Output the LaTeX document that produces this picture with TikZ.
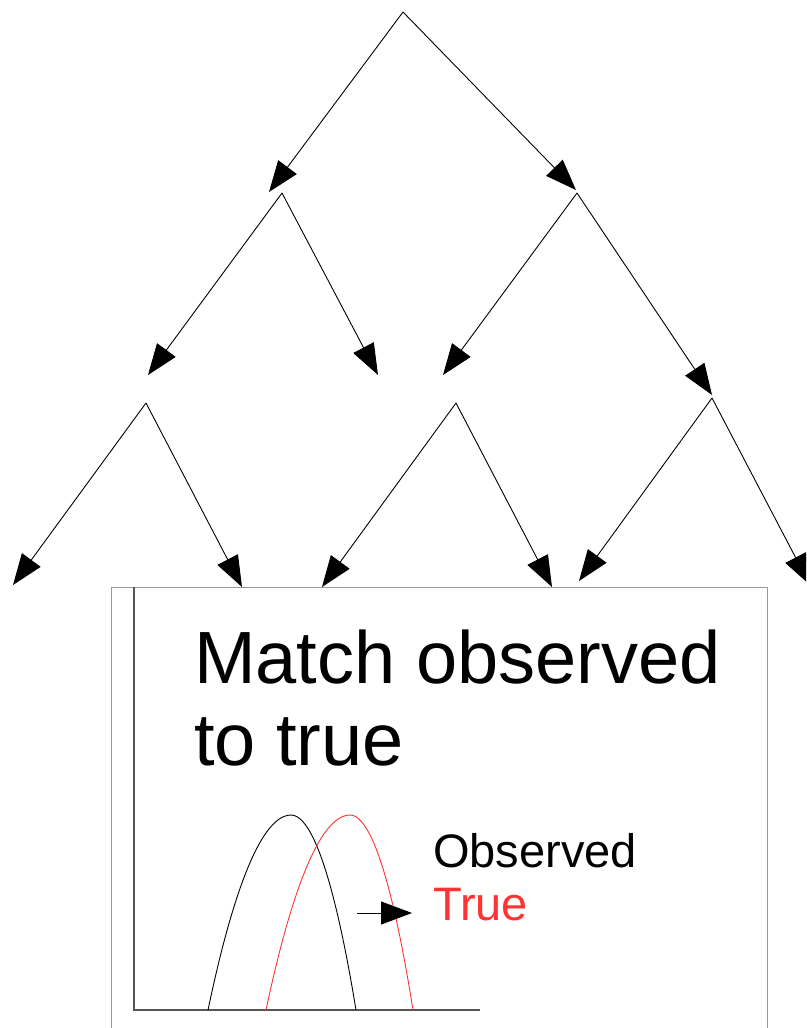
\documentclass[tikz,border=0pt]{standalone}
\usepackage{fontspec}
\setmainfont{Liberation Sans}
\usetikzlibrary{arrows.meta}
\definecolor{boxgray}{HTML}{999999}
\definecolor{axisgray}{HTML}{555555}
\definecolor{truered}{HTML}{FF3333}
\begin{document}
\begin{tikzpicture}[x=1pt,y=-1pt,
  edge/.style={line width=0.9pt,-{Triangle[length=31pt,width=23pt]}},
  curve/.style={line width=0.9pt},
  bigtext/.style={anchor=base west,inner sep=0pt,font=\fontsize{74}{86}\selectfont},
  legtext/.style={anchor=base west,inner sep=0pt,font=\fontsize{47}{54}\selectfont}]
\useasboundingbox (0,0) rectangle (806,1028);
\clip (0,0) rectangle (806,1028);
% apexes
\coordinate (r) at (403,12);
\coordinate (a) at (282,193);
\coordinate (b) at (577,193);
\coordinate (c) at (146,403);
\coordinate (d) at (456,403);
\coordinate (e) at (712,398);
% arrow ends
\coordinate (ra) at (269,192);
\coordinate (rb) at (576,190);
\coordinate (ac) at (148,375);
\coordinate (ad) at (378,375);
\coordinate (bd) at (443,375);
\coordinate (be) at (712,395);
\coordinate (c1) at (13,585);
\coordinate (c2) at (242,587);
\coordinate (d1) at (322,587);
\coordinate (d2) at (552,587);
\coordinate (e1) at (579,581);
\coordinate (e2) at (810,585);
\draw[edge] (r) -- (ra);
\draw[edge] (r) -- (rb);
\draw[edge] (a) -- (ac);
\draw[edge] (a) -- (ad);
\draw[edge] (b) -- (bd);
\draw[edge] (b) -- (be);
\draw[edge] (c) -- (c1);
\draw[edge] (c) -- (c2);
\draw[edge] (d) -- (d1);
\draw[edge] (d) -- (d2);
\draw[edge] (e) -- (e1);
\draw[edge] (e) -- (e2);
% box
\draw[boxgray,line width=1pt] (111,1040) -- (111,587) -- (767,587) -- (767,1040);
% axes
\coordinate (o) at (134,1010);
\draw[axisgray,line width=1.2pt] (134,587) -- (o) -- (480,1010);
% text
\node[bigtext] (t1) at (194,683) {Match observed};
\node[bigtext] (t2) at (194,765) {to true};
% curves
\draw[curve,black] (208,1010) parabola bend (291,815) (356,1010);
\draw[curve,truered] (266,1010) parabola bend (350,815) (413,1010);
% legend
\node[legtext] (obs) at (433,867) {Observed};
\node[legtext,text=truered] (tru) at (433,920) {True};
\coordinate (s1) at (357,913);
\coordinate (s2) at (412,913);
\draw[edge] (s1) -- (s2);
\end{tikzpicture}
\end{document}
